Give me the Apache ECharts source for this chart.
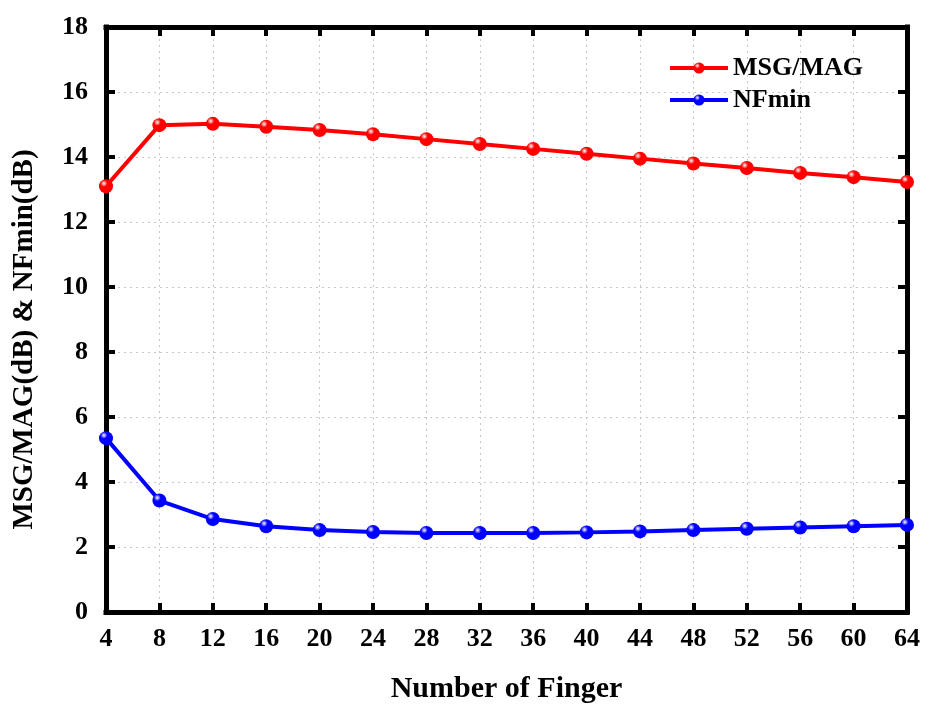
<!DOCTYPE html>
<html>
<head>
<meta charset="utf-8">
<script src="https://cdn.jsdelivr.net/npm/echarts@6/dist/echarts.min.js"></script>
<style>
html,body{margin:0;padding:0;background:#fff;}
#main{width:925px;height:709px;}
</style>
</head>
<body>
<div id="main"></div>
<script>
var fingers = [4, 8, 12, 16, 20, 24, 28, 32, 36, 40, 44, 48, 52, 56, 60, 64];
var msgMag = [13.1, 14.98, 15.02, 14.93, 14.83, 14.7, 14.55, 14.4, 14.25, 14.1, 13.95, 13.8, 13.66, 13.51, 13.38, 13.23];
var nfMin = [5.35, 3.43, 2.86, 2.64, 2.52, 2.46, 2.43, 2.43, 2.43, 2.45, 2.48, 2.52, 2.56, 2.6, 2.64, 2.68];

function pairs(ys){
	var res = [];
	for (var i = 0; i < fingers.length; i++) {
		res.push([fingers[i], ys[i]]);
	}
	return res;
}
function ball(c){
	return new echarts.graphic.RadialGradient(0.35, 0.3, 0.7, [
		{offset: 0, color: '#ffffff'},
		{offset: 0.35, color: c},
		{offset: 1, color: c}
	]);
}

var font = '"Liberation Serif", "Times New Roman", serif';
var chart = echarts.init(document.getElementById('main'));
var gridLine = {show: true, showMinLine: false, showMaxLine: false, lineStyle: {color: '#c8c8c8', type: [2, 4], width: 1}};
var tick = {show: true, inside: true, length: 9, lineStyle: {color: '#000', width: 4}};
var frame = {show: true, onZero: false, lineStyle: {color: '#000', width: 5, cap: 'square'}};

var option = {
	backgroundColor: '#fff',
	textStyle: {fontFamily: font},
	grid: {left: 106, right: 18, top: 27, bottom: 97},
	legend: {
		top: 50, right: 57,
		orient: 'vertical',
		itemWidth: 58, itemHeight: 14, itemGap: 6,
		lineStyle: {width: 4},
		textStyle: {fontFamily: font, fontWeight: 'bold', fontSize: 26, color: '#000'},
		data: ['MSG/MAG', 'NFmin']
	},
	xAxis: [
		{
			type: 'value', min: 4, max: 64, interval: 4,
			name: 'Number of Finger', nameLocation: 'middle', nameGap: 62,
			nameTextStyle: {fontFamily: font, fontWeight: 'bold', fontSize: 30, color: '#000'},
			axisLine: frame,
			axisTick: tick,
			axisLabel: {fontFamily: font, fontWeight: 'bold', fontSize: 26, color: '#000', margin: 14},
			splitLine: gridLine
		},
		{
			type: 'value', min: 4, max: 64, interval: 4, position: 'top',
			axisLine: frame, axisTick: tick, axisLabel: {show: false}, splitLine: {show: false}
		}
	],
	yAxis: [
		{
			type: 'value', min: 0, max: 18, interval: 2,
			name: 'MSG/MAG(dB) & NFmin(dB)', nameLocation: 'middle', nameGap: 67,
			nameTextStyle: {fontFamily: font, fontWeight: 'bold', fontSize: 29, color: '#000', padding: [0, 40, 0, 0]},
			axisLine: frame,
			axisTick: tick,
			axisLabel: {fontFamily: font, fontWeight: 'bold', fontSize: 26, color: '#000', margin: 18},
			splitLine: gridLine
		},
		{
			type: 'value', min: 0, max: 18, interval: 2, position: 'right',
			axisLine: frame, axisTick: tick, axisLabel: {show: false}, splitLine: {show: false}
		}
	],
	series: [
		{
			name: 'MSG/MAG', type: 'line',
			data: pairs(msgMag),
			symbol: 'circle', symbolSize: 14,
			lineStyle: {color: '#ff0000', width: 4},
			itemStyle: {color: ball('#ff0000'), borderWidth: 0},
			z: 3
		},
		{
			name: 'NFmin', type: 'line',
			data: pairs(nfMin),
			symbol: 'circle', symbolSize: 14,
			lineStyle: {color: '#0000ff', width: 4},
			itemStyle: {color: ball('#0000ff'), borderWidth: 0},
			z: 3
		}
	]
};
chart.setOption(option);
</script>
</body>
</html>
